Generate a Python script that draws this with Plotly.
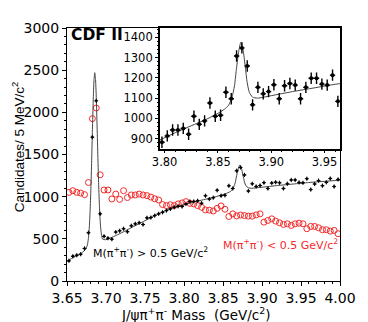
import numpy as np
import plotly.graph_objects as go

# ---- data (5 MeV bins) ----
bin_start = 3.6525
bin_width = 0.005
mass = np.round(bin_start + bin_width * np.arange(70), 4)

high_mpipi = [239, 294, 306, 318, 386, 572, 1706, 2137, 796, 530,
              508, 496, 580, 595, 620, 585, 655, 678, 690, 670,
              749, 752, 776, 796, 815, 835, 855, 874, 886, 883,
              914, 943, 943, 951, 922, 1011, 971, 988, 1076, 1011,
              1016, 1129, 1097, 1307, 1347, 1258, 1067, 1153, 1121, 1132,
              1166, 1097, 1161, 1172, 1164, 1097, 1153, 1198, 1198, 1169,
              1164, 1213, 1084, 1150, 1190, 1130, 1170, 1215, 1120, 1205]

low_mpipi = [1051, 1071, 1051, 1043, 1024, 1168, 1925, 2051, 1259, 1079,
             1079, 973, 1031, 968, 1071, 990, 1020, 1020, 1031, 1020,
             1012, 995, 975, 961, 906, 894, 904, 894, 914, 926,
             941, 921, 914, 894, 874, 843, 840, 830, 862, 890,
             851, 765, 796, 772, 782, 776, 769, 769, 784, 796,
             698, 718, 737, 710, 690, 671, 678, 659, 678, 686,
             678, 620, 647, 647, 631, 608, 608, 592, 600, 561]

# fit curve
fit_x = [3.650, 3.655, 3.660, 3.665, 3.670, 3.6736, 3.6756, 3.6766, 3.6776, 3.6786,
         3.6796, 3.6806, 3.6816, 3.6826, 3.6836, 3.6846, 3.6856, 3.6866, 3.6876, 3.6886,
         3.6896, 3.6906, 3.6916, 3.6926, 3.6936, 3.6946, 3.6956, 3.700, 3.710, 3.720,
         3.730, 3.740, 3.750, 3.760, 3.770, 3.780, 3.790, 3.800, 3.810, 3.820,
         3.830, 3.840, 3.850, 3.856, 3.860, 3.863, 3.8655, 3.8675, 3.8695, 3.8715,
         3.8735, 3.8755, 3.8775, 3.8795, 3.8825, 3.887, 3.900, 3.920, 3.940, 3.960,
         3.980, 4.000]
fit_y = [235, 262, 288, 310, 340, 375, 412, 449, 519, 638,
         827, 1093, 1425, 1795, 2134, 2379, 2470, 2389, 2154, 1825,
         1465, 1140, 882, 700, 590, 527, 497, 490, 528, 572,
         620, 668, 715, 762, 808, 850, 880, 905, 930, 953,
         975, 998, 1025, 1045, 1065, 1100, 1160, 1250, 1330, 1375,
         1340, 1260, 1175, 1128, 1105, 1100, 1112, 1132, 1150, 1168,
         1182, 1195]

main_xticks = [3.65, 3.70, 3.75, 3.80, 3.85, 3.90, 3.95, 4.00]
inset_xticks = [3.80, 3.85, 3.90, 3.95]
inset_yticks = [900, 1000, 1100, 1200, 1300, 1400]

RED = "#f42a2a"
FONT = "DejaVu Sans"

fig = go.Figure()

# main panel
fig.add_trace(go.Scatter(
    x=mass, y=low_mpipi, mode="markers",
    marker=dict(symbol="circle-open", size=6, color=RED, line=dict(width=1, color=RED)),
    xaxis="x", yaxis="y", showlegend=False, hoverinfo="skip"))
fig.add_trace(go.Scatter(
    x=fit_x, y=fit_y, mode="lines", line=dict(color="#444444", width=1, shape="spline", smoothing=0.6),
    xaxis="x", yaxis="y", showlegend=False, hoverinfo="skip"))
fig.add_trace(go.Scatter(
    x=mass, y=high_mpipi, mode="markers",
    marker=dict(symbol="circle", size=2.5, color="black"),
    error_y=dict(type="constant", value=25, width=0, thickness=1, color="black"),
    error_x=dict(type="constant", value=0.0025, width=0, thickness=1, color="black"),
    xaxis="x", yaxis="y", showlegend=False, hoverinfo="skip"))

# inset panel
fig.add_trace(go.Scatter(
    x=fit_x, y=fit_y, mode="lines", line=dict(color="#444444", width=1, shape="spline", smoothing=0.6),
    xaxis="x2", yaxis="y2", showlegend=False, hoverinfo="skip"))
fig.add_trace(go.Scatter(
    x=mass, y=high_mpipi, mode="markers",
    marker=dict(symbol="circle", size=4, color="black"),
    error_y=dict(type="constant", value=28, width=0, thickness=1.4, color="black"),
    error_x=dict(type="constant", value=0.0025, width=0, thickness=1.4, color="black"),
    xaxis="x2", yaxis="y2", showlegend=False, hoverinfo="skip"))

axis_common = dict(showgrid=False, zeroline=False, showline=True, linecolor="black",
                   mirror=True, ticks="outside", tickcolor="black")

# page body has an 8 px margin: the figure starts at (8, 8) in the window
fig.update_layout(
    width=360, height=314,
    margin=dict(l=59, r=19, t=18, b=41),
    paper_bgcolor="white", plot_bgcolor="white",
    font=dict(family=FONT, color="black"),
    xaxis=dict(domain=[0, 1], range=[3.65, 4.00], tickvals=main_xticks,
               ticktext=[f"{v:.2f}" for v in main_xticks], tickfont=dict(size=14, family=FONT),
               ticklen=4, linewidth=1,
               minor=dict(dtick=0.01, tick0=3.65, ticks="outside", ticklen=2, tickcolor="black"),
               anchor="y", **axis_common),
    yaxis=dict(domain=[0, 1], range=[0, 3000], dtick=500, tickfont=dict(size=14, family=FONT),
               ticklen=4, linewidth=1,
               minor=dict(dtick=100, ticks="outside", ticklen=2, tickcolor="black"),
               anchor="x", **axis_common),
    xaxis2=dict(domain=[0.34, 1.0], range=[3.7955, 3.9645], tickvals=inset_xticks,
                ticktext=[f"{v:.2f}" for v in inset_xticks], tickfont=dict(size=11.5, family=FONT),
                ticklen=2, linewidth=1.5,
                minor=dict(dtick=0.01, tick0=3.80, ticks="outside", ticklen=1.5, tickcolor="black"),
                anchor="y2", **axis_common),
    yaxis2=dict(domain=[0.522, 1.0], range=[850, 1445], tickvals=inset_yticks,
                tickfont=dict(size=11.5, family=FONT),
                ticklen=3, linewidth=1.5,
                minor=dict(dtick=20, ticks="outside", ticklen=1.5, tickcolor="black"),
                anchor="x2", **axis_common),
    annotations=[
        dict(text="<b>CDF II</b>", xref="paper", yref="paper", x=0.008, y=0.972,
             xanchor="left", yanchor="middle", showarrow=False,
             font=dict(size=15.5, family=FONT, color="black")),
        dict(text="Candidates/ 5 MeV/c<sup>2</sup>", xref="paper", yref="paper",
             x=-0.178, y=0.53, textangle=-90, xanchor="center", yanchor="middle",
             showarrow=False, font=dict(size=13.5, family="Liberation Sans", color="black")),
        dict(text="J/ψπ<sup>+</sup>π<sup>-</sup> Mass \u00a0(GeV/c<sup>2</sup>)", xref="paper", yref="paper",
             x=0.472, y=-0.129, xanchor="center", yanchor="middle", showarrow=False,
             font=dict(size=13.5, family=FONT, color="black")),
        dict(text="M(π<sup>+</sup>π<sup>-</sup>) > 0.5 GeV/c<sup>2</sup>", xref="paper", yref="paper",
             x=0.088, y=0.114, xanchor="left", yanchor="middle", showarrow=False,
             font=dict(size=11, family=FONT, color="black")),
        dict(text="M(π<sup>+</sup>π<sup>-</sup>) < 0.5 GeV/c<sup>2</sup>", xref="paper", yref="paper",
             x=0.565, y=0.145, xanchor="left", yanchor="middle", showarrow=False,
             font=dict(size=11, family=FONT, color=RED)),
    ],
)

fig.write_html("out.html")
